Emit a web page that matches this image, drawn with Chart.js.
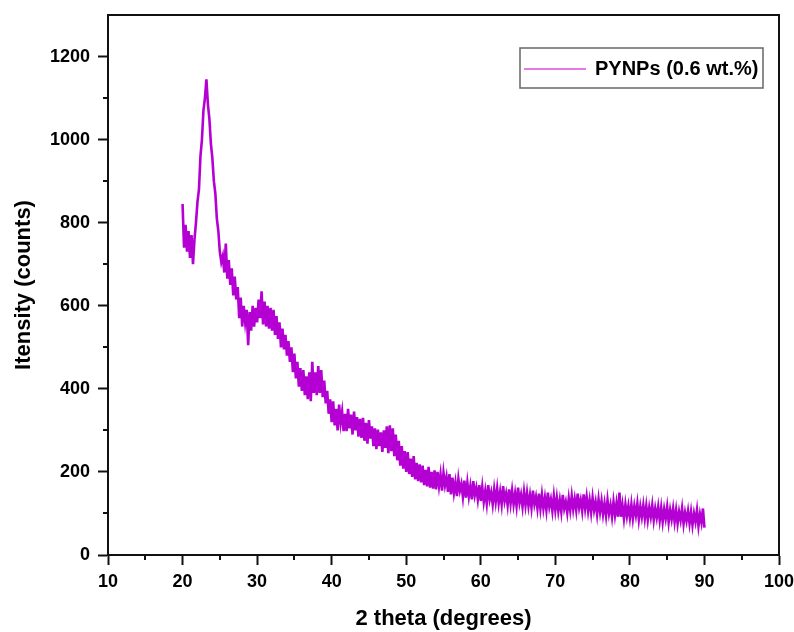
<!DOCTYPE html>
<html>
<head>
<meta charset="utf-8">
<title>XRD - PYNPs</title>
<script src="https://cdn.jsdelivr.net/npm/chart.js@4/dist/chart.umd.min.js"></script>
<style>
    html, body { margin: 0; padding: 0; background: #fff; }
    #xrdChart { display: block; }
</style>
</head>
<body>
<canvas id="xrdChart" width="794" height="632"></canvas>
<script>
// ---- Data ----
const seriesLabel = 'PYNPs (0.6 wt.%)';
const xTitle = '2 theta (degrees)';
const yTitle = 'Itensity (counts)';

// scan grid (2 theta), one reading every 0.2 degrees
const scanStart = 20;
const scanStep = 0.2;

// intensity (counts), 10 readings per row = 2 degrees
const intensity = [
    845, 740, 795, 730, 780, 715, 770, 700, 760, 800,        // 20
    850, 880, 960, 1000, 1070, 1100, 1145, 1085, 1050, 990,  // 22
    955, 900, 870, 810, 780, 730, 705, 720, 680, 750,        // 24
    665, 710, 650, 690, 625, 670, 615, 645, 570, 620,        // 26
    550, 600, 560, 590, 505, 585, 540, 600, 550, 595,        // 28
    560, 615, 570, 635, 555, 610, 550, 600, 545, 595,        // 30
    540, 590, 530, 575, 520, 560, 500, 545, 495, 530,        // 32
    480, 515, 465, 500, 440, 485, 425, 465, 405, 450,        // 34
    395, 445, 385, 430, 375, 440, 370, 465, 390, 440,        // 36
    385, 455, 390, 445, 380, 420, 365, 395, 340, 375,        // 38
    320, 370, 312, 352, 300, 362, 318, 345, 298, 340,        // 40
    298, 352, 305, 338, 290, 345, 300, 332, 285, 328,        // 42
    282, 330, 275, 318, 268, 325, 280, 310, 262, 305,        // 44
    255, 302, 262, 295, 248, 300, 258, 310, 245, 312,        // 46
    250, 305, 238, 290, 228, 275, 215, 262, 208, 250,        // 48
    200, 248, 195, 232, 188, 238, 182, 222, 178, 218,        // 50
    175, 215, 168, 205, 165, 212, 162, 200, 160, 204,        // 52
    158, 200, 166, 194, 155, 198, 168, 188, 152, 195,        // 54
    146, 186, 150, 175, 142, 183, 155, 171, 140, 179,        // 56
    138, 174, 141, 166, 134, 178, 144, 162, 134, 168,        // 58
    130, 164, 128, 154, 124, 168, 134, 151, 122, 158,        // 60
    128, 160, 125, 152, 122, 166, 130, 148, 120, 158,        // 62
    124, 155, 122, 148, 118, 162, 126, 145, 116, 152,        // 64
    120, 150, 118, 144, 114, 155, 122, 140, 112, 148,        // 66
    112, 145, 112, 138, 108, 150, 116, 134, 106, 142,        // 68
    108, 138, 106, 132, 104, 145, 112, 128, 102, 136,        // 70
    108, 142, 110, 135, 108, 148, 114, 132, 106, 146,        // 72
    112, 140, 106, 132, 102, 138, 108, 128, 98, 134,         // 74
    104, 130, 98, 124, 95, 132, 100, 120, 92, 128,           // 76
    96, 124, 92, 150, 92, 120, 88, 122, 94, 118,             // 78
    90, 122, 88, 118, 96, 124, 86, 116, 92, 120,             // 80
    88, 118, 85, 114, 92, 120, 84, 112, 90, 116,             // 82
    84, 114, 80, 110, 88, 116, 79, 108, 86, 112,             // 84
    80, 108, 76, 104, 84, 112, 75, 102, 82, 106,             // 86
    76, 104, 72, 100, 80, 108, 70, 98, 78, 112,              // 88
    66                                                       // 90
];

// axis ticks
const xTicks = [10, 20, 30, 40, 50, 60, 70, 80, 90, 100];
const xMinorTicks = [15, 25, 35, 45, 55, 65, 75, 85, 95];
const yTicks = [0, 200, 400, 600, 800, 1000, 1200];
const yMinorTicks = [100, 300, 500, 700, 900, 1100];

// ---- Styles ----
const lineColor = '#b400d2';
const axisColor = '#111111';
const fontFamily = "'Liberation Sans', Arial, sans-serif";

const points = intensity.map((v, i) => ({ x: scanStart + i * scanStep, y: v }));

// Frame, minor ticks and legend box
const framePlugin = {
    id: 'frame',
    afterDraw(chart) {
        const { ctx, chartArea: a, scales } = chart;
        ctx.save();
        ctx.strokeStyle = axisColor;
        ctx.lineWidth = 2;

        // top and right border
        ctx.beginPath();
        ctx.moveTo(a.left, a.top);
        ctx.lineTo(a.right, a.top);
        ctx.lineTo(a.right, a.bottom);
        ctx.stroke();

        // minor ticks
        ctx.beginPath();
        xMinorTicks.forEach(v => {
            const px = Math.round(scales.x.getPixelForValue(v));
            ctx.moveTo(px, a.bottom);
            ctx.lineTo(px, a.bottom + 5);
        });
        yMinorTicks.forEach(v => {
            const py = Math.round(scales.y.getPixelForValue(v));
            ctx.moveTo(a.left, py);
            ctx.lineTo(a.left - 5, py);
        });
        ctx.stroke();

        // legend
        const bx = a.right - 259, by = a.top + 33, bw = 243, bh = 40;
        ctx.fillStyle = '#fff';
        ctx.fillRect(bx, by, bw, bh);
        ctx.strokeStyle = '#666';
        ctx.lineWidth = 1.5;
        ctx.strokeRect(bx, by, bw, bh);

        ctx.strokeStyle = '#e47ae4';
        ctx.lineWidth = 2;
        ctx.beginPath();
        ctx.moveTo(bx + 4, by + 21);
        ctx.lineTo(bx + 66, by + 21);
        ctx.stroke();

        ctx.fillStyle = '#000';
        ctx.font = 'bold 20px ' + fontFamily;
        ctx.textBaseline = 'middle';
        ctx.textAlign = 'left';
        ctx.fillText(seriesLabel, bx + 75, by + 21);
        ctx.restore();
    }
};

const ctx = document.getElementById('xrdChart');
new Chart(ctx, {
    type: 'line',
    data: {
        datasets: [{
            label: seriesLabel,
            data: points,
            borderColor: lineColor,
            borderWidth: 2.6,
            pointRadius: 0,
            tension: 0,
            fill: false
        }]
    },
    options: {
        responsive: false,
        animation: false,
        events: [],
        layout: {
            padding: { top: 15, right: 15, left: 0, bottom: 0 }
        },
        plugins: {
            legend: { display: false },
            tooltip: { enabled: false }
        },
        scales: {
            x: {
                type: 'linear',
                min: 10,
                max: 100,
                afterBuildTicks: scale => { scale.ticks = xTicks.map(v => ({ value: v })); },
                afterFit: scale => {
                    scale.height = 77;
                    scale.paddingLeft = 0;
                    scale.paddingRight = 0;
                },
                grid: {
                    drawOnChartArea: false,
                    drawTicks: true,
                    tickLength: 10,
                    tickWidth: 2,
                    tickColor: axisColor
                },
                border: { display: true, color: axisColor, width: 2 },
                ticks: {
                    color: '#000',
                    padding: 6,
                    maxRotation: 0,
                    callback: v => String(v),
                    font: { family: fontFamily, size: 18, weight: 'bold' }
                },
                title: {
                    display: true,
                    text: xTitle,
                    color: '#000',
                    padding: { top: 0, bottom: 0 },
                    font: { family: fontFamily, size: 22, weight: 'bold' }
                }
            },
            y: {
                min: 0,
                max: 1300,
                afterBuildTicks: scale => { scale.ticks = yTicks.map(v => ({ value: v })); },
                afterFit: scale => {
                    scale.width = 108;
                    scale.paddingTop = 0;
                    scale.paddingBottom = 0;
                },
                grid: {
                    drawOnChartArea: false,
                    drawTicks: true,
                    tickLength: 10,
                    tickWidth: 2,
                    tickColor: axisColor
                },
                border: { display: true, color: axisColor, width: 2 },
                ticks: {
                    color: '#000',
                    padding: 8,
                    callback: v => String(v),
                    font: { family: fontFamily, size: 18, weight: 'bold' }
                },
                title: {
                    display: true,
                    text: yTitle,
                    color: '#000',
                    padding: { top: 11, bottom: 0 },
                    font: { family: fontFamily, size: 22, weight: 'bold' }
                }
            }
        }
    },
    plugins: [framePlugin]
});
</script>
</body>
</html>
